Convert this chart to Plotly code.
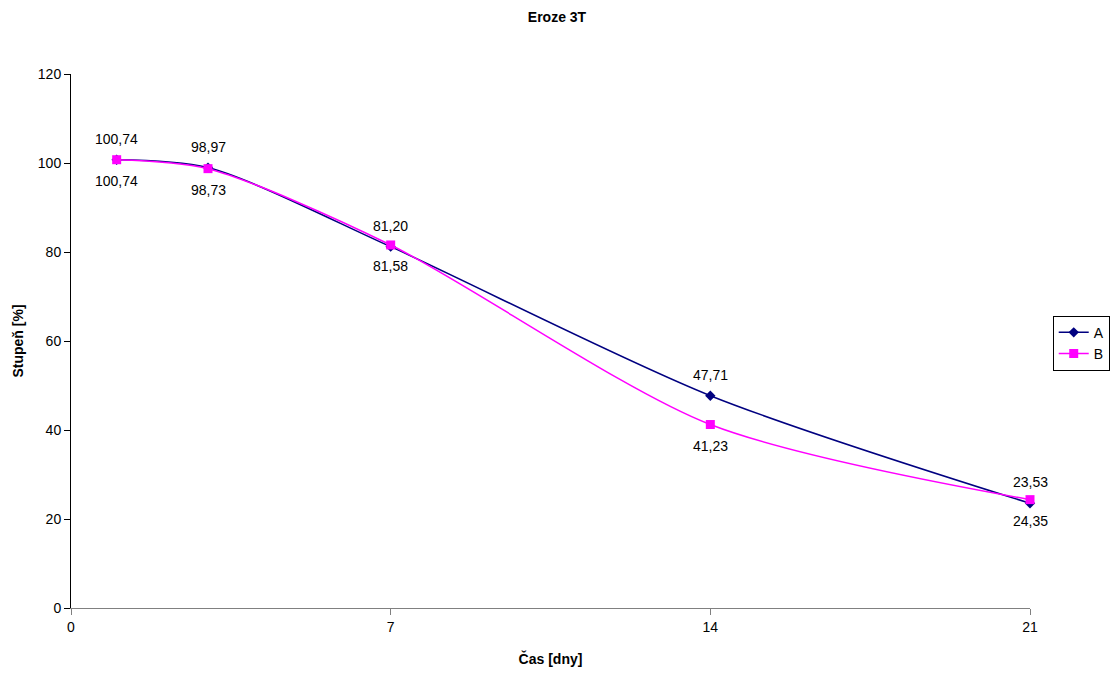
import plotly.graph_objects as go

days = [1, 3, 7, 14, 21]
a_vals = [100.74, 98.97, 81.20, 47.71, 23.53]
b_vals = [100.74, 98.73, 81.58, 41.23, 24.35]
x_ticks = [0, 7, 14, 21]
y_ticks = [0, 20, 40, 60, 80, 100, 120]

def fmt(v):
    return f"{v:.2f}".replace(".", ",")

font = "Liberation Sans, Arial, sans-serif"

fig = go.Figure()
fig.add_trace(go.Scatter(
    x=days, y=a_vals, name="A", mode="lines+markers",
    line=dict(color="#000080", width=1.5, shape="spline", smoothing=0.8),
    marker=dict(symbol="diamond", size=8, color="#000080"),
    cliponaxis=False,
))
fig.add_trace(go.Scatter(
    x=days, y=b_vals, name="B", mode="lines+markers",
    line=dict(color="#FF00FF", width=1.5, shape="spline", smoothing=0.8),
    marker=dict(symbol="square", size=9, color="#FF00FF"),
    cliponaxis=False,
))

annotations = []
for xv, yv in zip(days, a_vals):
    annotations.append(dict(x=xv, y=yv, text=fmt(yv), showarrow=False, yshift=21,
                            font=dict(family=font, size=14, color="black")))
for xv, yv in zip(days, b_vals):
    annotations.append(dict(x=xv, y=yv, text=fmt(yv), showarrow=False, yshift=-21,
                            font=dict(family=font, size=14, color="black")))

fig.update_layout(
    width=1114, height=673,
    margin=dict(l=71, r=84, t=74, b=65, autoexpand=False),
    paper_bgcolor="white", plot_bgcolor="white",
    font=dict(family=font, size=14, color="black"),
    title=dict(text="<b>Eroze 3T</b>", x=0.5, xanchor="center", y=0.975, yanchor="middle",
               font=dict(family=font, size=14)),
    annotations=annotations,
    showlegend=True,
    legend=dict(xref="container", yref="container", x=0.945, y=0.49, xanchor="left", yanchor="middle",
                bordercolor="black", borderwidth=1, bgcolor="white",
                font=dict(family=font, size=14), tracegroupgap=2, itemwidth=30),
    xaxis=dict(range=[0, 21], tickvals=x_ticks, ticktext=[str(t) for t in x_ticks],
               showgrid=False, zeroline=False, showline=True, linecolor="#808080", linewidth=1,
               ticks="outside", ticklen=6, tickcolor="#808080",
               title=dict(text="<b>Čas [dny]</b>", font=dict(family=font, size=14), standoff=20)),
    yaxis=dict(range=[0, 120], tickvals=y_ticks, showgrid=False, zeroline=False,
               showline=True, linecolor="black", linewidth=1,
               ticks="outside", ticklen=6, tickcolor="black",
               title=dict(text="<b>Stupeň [%]</b>", font=dict(family=font, size=14), standoff=10)),
)

fig.write_html("out.html")
